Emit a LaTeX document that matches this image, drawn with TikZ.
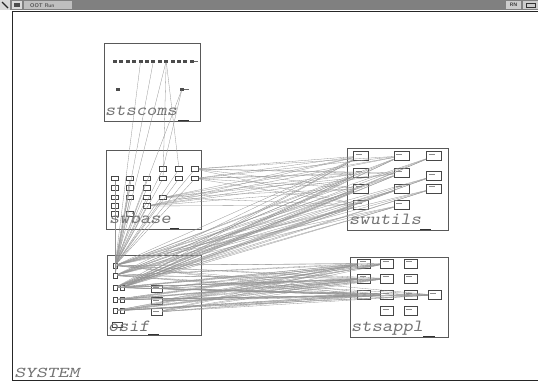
\documentclass[tikz,border=0pt]{standalone}
\usepackage{fontspec}
\begin{document}
\begin{tikzpicture}[x=1pt,y=-1pt,
  pkg/.style={draw=black!65, line width=1pt},
  mark2/.style={draw=black!80, line width=1.6pt},
  csq/.style={fill=black!70, inner sep=0pt, minimum width=4, minimum height=3},
  ubase/.style={draw=black!72, line width=0.8pt, inner sep=0pt},
  txt/.style={path picture={\draw[black!45, line width=0.35pt] ([xshift=2pt,yshift=-2.2pt]path picture bounding box.north west) -- ++(6pt,0);}},
  bu/.style={ubase, minimum width=7, minimum height=4.5},
  ou/.style={ubase, minimum width=4, minimum height=5},
  mu/.style={ubase, txt, minimum width=11, minimum height=7},
  uu/.style={ubase, txt, minimum width=15, minimum height=9},
  au/.style={ubase, txt, minimum width=13, minimum height=9},
  lbl/.style={font=\fontsize{17}{17}\selectfont\ttfamily\slshape, text=black!55, inner sep=0pt, xscale=1.15, anchor=base west},
  dep/.style={draw=black!42, line width=0.3pt}]
\useasboundingbox (0,0) rectangle (538,383);
\fill[white] (0,0) rectangle (538,383);
% title bar
\fill[black!50] (0,0) rectangle (538,10);
\fill[black!15] (0,0) rectangle (10,10);
\draw[black!85, line width=1.2pt] (2,2) -- (8,8);
\fill[black!15] (12,1) rectangle (22,9);
\fill[black!70] (14,3) rectangle (20,7);
\fill[black!25] (24,1) rectangle (72,9);
\node[font=\fontsize{5.5}{5.5}\selectfont\sffamily, text=black!80, anchor=west, inner sep=0pt] (title) at (30,5.2) {OOT Run};
\fill[black!20] (506,1) rectangle (521,9);
\node[font=\fontsize{5}{5}\selectfont\sffamily\bfseries, text=black!80, inner sep=0pt] (ic1) at (513.5,5) {RN};
\fill[black!20] (523,1) rectangle (538,9);
\draw[black!80, line width=0.6pt] (526,3) rectangle (535,7);
% window frame
\draw[black!85, line width=0.8pt] (12,380) -- (12,11) -- (538,11);
\draw[black!85, line width=0.8pt] (12,380) -- (538,380);
% packages
\draw[pkg] (104,43) rectangle (200,121);
\draw[pkg] (106,150) rectangle (201,229);
\draw[pkg] (107,255) rectangle (201,335);
\draw[pkg] (347,148) rectangle (448,230);
\draw[pkg] (350,257) rectangle (448,337);
\draw[mark2] (178,120.5) -- (189,120.5);
\draw[mark2] (170,228.5) -- (179,228.5);
\draw[mark2] (148,334.5) -- (159,334.5);
\draw[mark2] (420,229.5) -- (431,229.5);
\draw[mark2] (423,336.5) -- (435,336.5);
% stscoms units
\foreach \i in {1,...,13} \node[csq] (c\i) at ({115+(\i-1)*6.4},61) {};
\draw[black!60, line width=0.4pt] (c13) -- (198,61);
\node[csq] (c14) at (118,89) {};
\node[csq] (c15) at (182,89) {};
\draw[black!60, line width=0.4pt] (c15) -- (189,89);
% swbase units
\node[bu] (b1) at (163,169) {};
\node[bu] (b2) at (179,169) {};
\node[bu] (b3) at (195,169) {};
\node[bu] (b4) at (115,178.5) {};
\node[bu] (b5) at (130,178.5) {};
\node[bu] (b6) at (147,178.5) {};
\node[bu] (b7) at (163,178.5) {};
\node[bu] (b8) at (179,178.5) {};
\node[bu] (b9) at (195,178.5) {};
\node[bu] (b10) at (115,188) {};
\node[bu] (b11) at (130,188) {};
\node[bu] (b12) at (147,188) {};
\node[bu] (b13) at (115,197.5) {};
\node[bu] (b14) at (130,197.5) {};
\node[bu] (b15) at (147,197.5) {};
\node[bu] (b16) at (163,197.5) {};
\node[bu] (b17) at (115,206) {};
\node[bu] (b18) at (147,206) {};
\node[bu] (b19) at (115,214) {};
\node[bu] (b20) at (130,214) {};
% osif units
\node[ou] (o1) at (115,265.5) {};
\node[ou] (o2) at (115,275.5) {};
\node[ou] (o3) at (115,287.5) {};
\node[ou] (o4) at (115,299.5) {};
\node[ou] (o5) at (115,310.5) {};
\node[ou] (p1) at (122,287.5) {};
\node[ou] (p2) at (122,299.5) {};
\node[ou] (p3) at (122,310.5) {};
\node[ou, minimum width=10] (o6) at (117,324.5) {};
\node[mu] (m1) at (156.5,288.5) {};
\node[mu] (m2) at (156.5,301) {};
\node[mu] (m3) at (156.5,312) {};
% swutils units
\node[uu] (u1) at (361,156) {};
\node[uu] (u2) at (361,173) {};
\node[uu] (u3) at (361,188.5) {};
\node[uu] (u4) at (361,205) {};
\node[uu] (u5) at (401.5,156) {};
\node[uu] (u6) at (401.5,173) {};
\node[uu] (u7) at (401.5,188.5) {};
\node[uu] (u8) at (401.5,205) {};
\node[uu] (u9) at (434,156) {};
\node[uu] (u10) at (434,176) {};
\node[uu] (u11) at (434,188.5) {};
% stsappl units
\node[au] (a1) at (364,263.5) {};
\node[au] (a2) at (387,263.5) {};
\node[au] (a3) at (410.5,263.5) {};
\node[au] (a4) at (364,278.5) {};
\node[au] (a5) at (387,278.5) {};
\node[au] (a6) at (410.5,278.5) {};
\node[au] (a7) at (364,295) {};
\node[au] (a8) at (387,295) {};
\node[au] (a9) at (410.5,295) {};
\node[au] (a10) at (434.5,295) {};
\node[au] (a11) at (387,311) {};
\node[au] (a12) at (410.5,311) {};
% dependencies
\foreach \s in {o1,o2,o3,p1}
  \foreach \t in {u1,u2,u3,u4,u5,u6,u7,u8,u9,u10,u11}
    \draw[dep] (\s) -- (\t);
\foreach \s in {o1,o2,o3,o4,o5,p1,p2,p3,m1,m2,m3}
  \foreach \t in {a1,a2,a4,a5,a7,a8,a10}
    \draw[dep] (\s) -- (\t);
\foreach \s in {b3,b9,b16,b18}
  \foreach \t in {u1,u2,u3,u4,u5,u6}
    \draw[dep] (\s) -- (\t);
\foreach \t in {b1,b2,b3,b4,b5,b6,b7,b8,b9,b10,b11,b12,b13,b14,b15,b16,b17,b18,b19,b20}
  \draw[dep] (o1) -- (\t);
\foreach \t in {b4,b10,b13,b17,b19,b5,b14}
  \draw[dep] (o2) -- (\t);
\foreach \t in {c5,c7,c9,c15}
  \draw[dep] (o1) -- (\t);
\draw[dep] (b2) -- (c9);
\draw[dep] (b1) -- (c15);
\draw[dep] (b7) -- (c9);
% labels
\node[lbl] (l1) at (105,115) {stscoms};
\node[lbl] (l2) at (109,223) {swbase};
\node[lbl] (l3) at (108,331) {osif};
\node[lbl] (l4) at (349,224) {swutils};
\node[lbl] (l5) at (351,331) {stsappl};
\node[lbl, font=\fontsize{15}{15}\selectfont\ttfamily\slshape, xscale=1.2] (sys) at (14,377.5) {SYSTEM};
\end{tikzpicture}
\end{document}
